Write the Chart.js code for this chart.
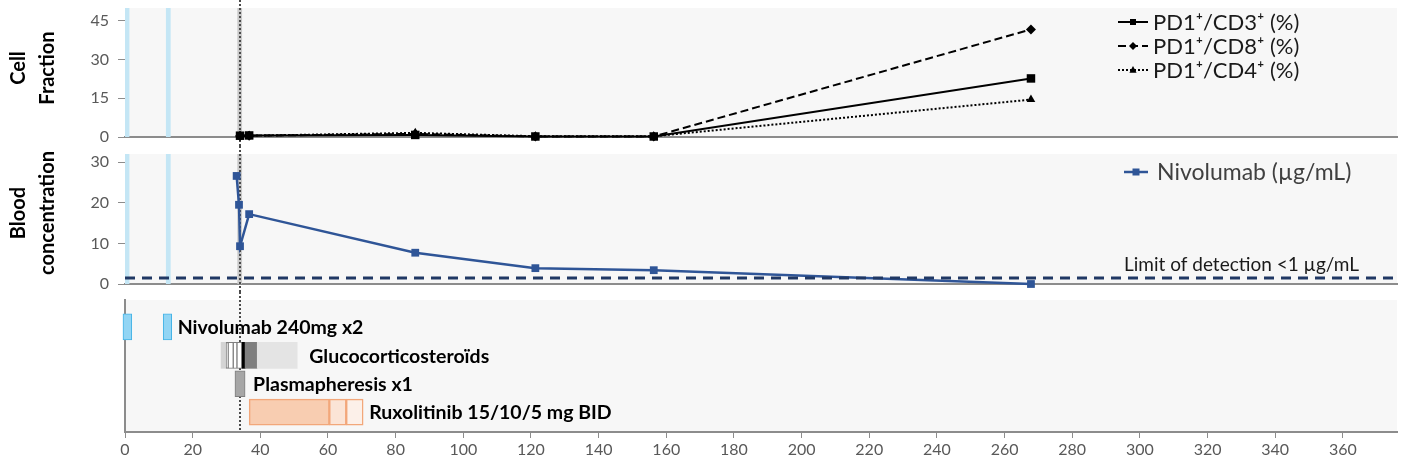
<!DOCTYPE html>
<html>
<head>
<meta charset="utf-8">
<script src="https://cdn.jsdelivr.net/npm/chart.js@4.4.1/dist/chart.umd.min.js"></script>
<style>
  html, body { margin: 0; padding: 0; background: #fff; }
  #wrap { position: relative; width: 1409px; height: 474px; overflow: hidden; }
  canvas { position: absolute; left: 0; }
</style>
</head>
<body>
<div id="wrap">
  <canvas id="cellChart" width="1409" height="146" style="top:0"></canvas>
  <canvas id="bloodChart" width="1409" height="146" style="top:146px"></canvas>
  <canvas id="treatChart" width="1409" height="182" style="top:292px"></canvas>
</div>
<script>
// days since first nivolumab dose
var xTicks = [0, 20, 40, 60, 80, 100, 120, 140, 160, 180, 200, 220, 240, 260, 280, 300, 320, 340, 360];
var cellTicks = [0, 15, 30, 45];
var bloodTicks = [0, 10, 20, 30];

var cellDays = [34, 36.7, 85.8, 121.3, 156.3, 267.8];
var cd3Values = [0.5, 0.6, 0.8, 0.2, 0.2, 22.7];
var cd8Values = [0.4, 0.5, 1.2, 0.2, 0.2, 41.7];
var cd4Values = [0.6, 0.5, 1.6, 0.3, 0.3, 14.5];

var nivoDays = [33.0, 33.7, 34.0, 36.7, 85.8, 121.3, 156.3, 267.8];
var nivoValues = [26.6, 19.5, 9.3, 17.2, 7.7, 3.9, 3.4, 0];
var detectionLimit = 1.5;

var doseBands = [[0, 1.3], [12.1, 13.5]];
var plasmaBand = [33.2, 34.6];
var plasmaDay = 34;

var treatRows = ['Nivolumab 240mg x2', 'Glucocorticosteroïds', 'Plasmapheresis x1', 'Ruxolitinib 15/10/5 mg BID'];
var nivoBars = [[-0.6, 2], [11.3, 13.8]];
var steroidBars = [[28.4, 29.9], [29.9, 30.5], [30.5, 32], [32, 33.1], [33.1, 34.6], [34.6, 35.5], [35.5, 39.1], [39.1, 50.9]];
var plasmaBars = [[32.5, 35.5]];
var ruxBars = [[36.7, 60.4], [60.4, 65.4], [65.4, 70.4]];

var FONT = 'Lato, "DejaVu Sans", sans-serif';
Chart.defaults.font.family = FONT;
Chart.defaults.animation = false;

var X_MAX = 376;

function xScale(showLabels) {
  return {
    type: 'linear',
    min: 0,
    max: X_MAX,
    afterBuildTicks: function (s) { s.ticks = xTicks.map(function (v) { return { value: v }; }); },
    afterFit: function (s) {
      s.height = showLabels ? 42 : 0;
      s.paddingLeft = 0; s.paddingRight = 0;
    },
    border: { display: true, color: '#8c8c8c', width: 2 },
    grid: { display: showLabels, drawOnChartArea: false, drawTicks: true, tickLength: 6, color: '#8c8c8c' },
    ticks: { display: showLabels, color: '#595959', font: { size: 16 }, padding: 2, maxRotation: 0 }
  };
}

function yScale(max, tickList) {
  return {
    min: 0,
    max: max,
    afterBuildTicks: function (s) { s.ticks = tickList.map(function (v) { return { value: v }; }); },
    afterFit: function (s) { s.width = 125; s.paddingTop = 0; s.paddingBottom = 0; },
    border: { display: false },
    grid: { drawOnChartArea: false, drawTicks: true, tickLength: 7, color: '#8c8c8c' },
    ticks: { color: '#595959', font: { size: 16 }, padding: 9 }
  };
}

function drawMarker(ctx, style, x, y, r) {
  ctx.beginPath();
  if (style === 'rect') {
    ctx.rect(x - r, y - r, 2 * r, 2 * r);
  } else if (style === 'rectRot') {
    ctx.moveTo(x, y - r); ctx.lineTo(x + r, y); ctx.lineTo(x, y + r); ctx.lineTo(x - r, y); ctx.closePath();
  } else {
    ctx.moveTo(x, y - r); ctx.lineTo(x + r * 0.9, y + r * 0.7); ctx.lineTo(x - r * 0.9, y + r * 0.7); ctx.closePath();
  }
  ctx.fill();
}

// rotated two-line axis title
function axisTitle(ctx, lines, cy) {
  ctx.save();
  ctx.fillStyle = '#000';
  ctx.font = 'bold 20px ' + FONT;
  ctx.textAlign = 'center';
  ctx.textBaseline = 'middle';
  lines.forEach(function (t, i) {
    ctx.save();
    ctx.translate(19 + i * 29, cy);
    ctx.rotate(-Math.PI / 2);
    ctx.fillText(t, 0, 0);
    ctx.restore();
  });
  ctx.restore();
}

// panel background, nivolumab dose bands and the plasmapheresis marker line
function panelPlugin(withBands, lineToArea) {
  return {
    id: 'panel',
    beforeDraw: function (chart) {
      var a = chart.chartArea, ctx = chart.ctx;
      ctx.save();
      ctx.fillStyle = '#f7f7f7';
      ctx.fillRect(a.left, a.top, a.right - a.left, a.bottom - a.top);
      ctx.restore();
    },
    beforeDatasetsDraw: function (chart) {
      var a = chart.chartArea, ctx = chart.ctx, xs = chart.scales.x;
      ctx.save();
      if (withBands) {
        ctx.fillStyle = '#c4e6f5';
        doseBands.forEach(function (d) {
          var x0 = xs.getPixelForValue(d[0]), x1 = xs.getPixelForValue(d[1]);
          ctx.fillRect(x0, a.top, x1 - x0, a.bottom - a.top);
        });
        ctx.fillStyle = '#c9c9c9';
        var p0 = xs.getPixelForValue(plasmaBand[0]), p1 = xs.getPixelForValue(plasmaBand[1]);
        ctx.fillRect(p0, a.top, p1 - p0, a.bottom - a.top);
      }
      var px = Math.round(xs.getPixelForValue(plasmaDay));
      ctx.strokeStyle = '#4a4a4a';
      ctx.lineWidth = 2;
      ctx.setLineDash([2, 2]);
      ctx.beginPath();
      ctx.moveTo(px, 0);
      ctx.lineTo(px, lineToArea ? a.bottom : chart.height);
      ctx.stroke();
      ctx.restore();
    }
  };
}

// ---- top panel: cell fractions ----
var cellPoints = function (vals) { return cellDays.map(function (d, i) { return { x: d, y: vals[i] }; }); };

new Chart(document.getElementById('cellChart'), {
  type: 'line',
  data: {
    datasets: [
      { label: 'PD1⁺/CD3⁺ (%)', data: cellPoints(cd3Values), borderColor: '#000', backgroundColor: '#000',
        borderWidth: 2, pointStyle: 'rect', pointRadius: 6, pointBorderWidth: 0, borderDash: [] },
      { label: 'PD1⁺/CD8⁺ (%)', data: cellPoints(cd8Values), borderColor: '#000', backgroundColor: '#000',
        borderWidth: 2, pointStyle: 'rectRot', pointRadius: 5, pointBorderWidth: 0, borderDash: [8, 4] },
      { label: 'PD1⁺/CD4⁺ (%)', data: cellPoints(cd4Values), borderColor: '#000', backgroundColor: '#000',
        borderWidth: 2, pointStyle: 'triangle', pointRadius: 5, pointBorderWidth: 0, borderDash: [2, 2] }
    ]
  },
  options: {
    responsive: false,
    layout: { padding: { top: 8, right: 12, bottom: 9, left: 0 } },
    datasets: { line: { tension: 0, clip: false } },
    plugins: { legend: { display: false }, tooltip: { enabled: false } },
    scales: { x: xScale(false), y: yScale(50, cellTicks) }
  },
  plugins: [panelPlugin(true, false), {
    id: 'cellLegend',
    afterDraw: function (chart) {
      var ctx = chart.ctx, a = chart.chartArea;
      var x0 = a.right - 279;
      axisTitle(ctx, ['Cell', 'Fraction'], 68);
      ctx.save();
      chart.data.datasets.forEach(function (ds, i) {
        var y = 22 + i * 24;
        ctx.strokeStyle = '#000';
        ctx.fillStyle = '#000';
        ctx.lineWidth = 2;
        ctx.setLineDash(ds.borderDash);
        ctx.beginPath(); ctx.moveTo(x0, y); ctx.lineTo(x0 + 30, y); ctx.stroke();
        ctx.setLineDash([]);
        drawMarker(ctx, ds.pointStyle, x0 + 15, y, ds.pointStyle === 'rect' ? 3 : 4);
        ctx.fillStyle = '#1a1a1a';
        ctx.font = '22px ' + FONT;
        ctx.textBaseline = 'middle';
        ctx.fillText(ds.label, x0 + 35, y + 1);
      });
      ctx.restore();
    }
  }]
});

// ---- middle panel: nivolumab blood concentration ----
new Chart(document.getElementById('bloodChart'), {
  type: 'line',
  data: {
    datasets: [
      { label: 'Limit of detection <1 µg/mL', data: [{ x: 0, y: detectionLimit }, { x: X_MAX, y: detectionLimit }],
        borderColor: '#203864', borderWidth: 3, borderDash: [10, 7], pointRadius: 0 },
      { label: 'Nivolumab (µg/mL)', data: nivoDays.map(function (d, i) { return { x: d, y: nivoValues[i] }; }),
        borderColor: '#2f5597', backgroundColor: '#2f5597', borderWidth: 2.5, pointStyle: 'rect',
        pointRadius: 5.5, pointBorderWidth: 0 }
    ]
  },
  options: {
    responsive: false,
    layout: { padding: { top: 8, right: 12, bottom: 8, left: 0 } },
    datasets: { line: { tension: 0, clip: false } },
    plugins: { legend: { display: false }, tooltip: { enabled: false } },
    scales: { x: xScale(false), y: yScale(32, bloodTicks) }
  },
  plugins: [panelPlugin(true, false), {
    id: 'bloodLegend',
    afterDraw: function (chart) {
      var ctx = chart.ctx, a = chart.chartArea;
      var nivo = chart.data.datasets[1], lod = chart.data.datasets[0];
      var x0 = a.right - 273, y = 26;
      axisTitle(ctx, ['Blood', 'concentration'], 67);
      ctx.save();
      ctx.strokeStyle = nivo.borderColor; ctx.fillStyle = nivo.borderColor; ctx.lineWidth = 2.5;
      ctx.beginPath(); ctx.moveTo(x0, y); ctx.lineTo(x0 + 24, y); ctx.stroke();
      drawMarker(ctx, 'rect', x0 + 12, y, 3.5);
      ctx.fillStyle = '#404040';
      ctx.font = '23px ' + FONT;
      ctx.textBaseline = 'middle';
      ctx.fillText(nivo.label, x0 + 33, y + 1);
      ctx.fillStyle = '#1a1a1a';
      ctx.font = '19px ' + FONT;
      ctx.fillText(lod.label, x0, 119);
      ctx.restore();
    }
  }]
});

// ---- bottom panel: treatments ----
var bars = [], fills = [], strokes = [], widths = [];
function addRow(list, row, colors, borderColors, borderWidths) {
  list.forEach(function (seg, i) {
    bars.push({ x: seg, y: row });
    fills.push(colors[i]);
    strokes.push(borderColors[i]);
    widths.push(borderWidths[i]);
  });
}
addRow(nivoBars, 1, ['#92d5f4', '#92d5f4'], ['#45b3e6', '#45b3e6'], [1, 1]);
addRow(steroidBars, 2,
  ['#d4d4d4', '#ffffff', '#ffffff', '#ffffff', '#ffffff', '#000000', '#7f7f7f', '#e4e4e4'],
  ['#d4d4d4', '#7f7f7f', '#7f7f7f', '#7f7f7f', '#7f7f7f', '#000000', '#7f7f7f', '#e4e4e4'],
  [0, 1, 1, 1, 1, 0, 0, 0]);
addRow(plasmaBars, 3, ['#a6a6a6'], ['#7f7f7f'], [1]);
addRow(ruxBars, 4, ['#f8cdb1', '#fbe4d6', '#fcf0e9'], ['#f2a77a', '#f2a77a', '#f2a77a'], [1.5, 1.5, 1.5]);

var rowEnds = [nivoBars, steroidBars, plasmaBars, ruxBars].map(function (list) {
  return Math.max.apply(null, list.map(function (s) { return s[1]; }));
});

new Chart(document.getElementById('treatChart'), {
  type: 'bar',
  data: {
    datasets: [{
      data: bars,
      backgroundColor: fills,
      borderColor: strokes,
      borderWidth: widths,
      borderSkipped: false,
      barThickness: 26,
      grouped: false,
      clip: false
    }]
  },
  options: {
    responsive: false,
    indexAxis: 'y',
    layout: { padding: { top: 8, right: 12, bottom: 0, left: 0 } },
    plugins: { legend: { display: false }, tooltip: { enabled: false } },
    scales: {
      x: xScale(true),
      y: {
        type: 'linear',
        min: 0.31,
        max: 4.44,
        reverse: true,
        afterFit: function (s) { s.width = 125; s.paddingTop = 0; s.paddingBottom = 0; },
        border: { display: true, color: '#8c8c8c', width: 2 },
        grid: { display: false },
        ticks: { display: false }
      }
    }
  },
  plugins: [panelPlugin(false, true), {
    id: 'rowLabels',
    afterDatasetsDraw: function (chart) {
      var ctx = chart.ctx, xs = chart.scales.x, ys = chart.scales.y;
      var gaps = [6, 12, 8, 6];
      ctx.save();
      ctx.fillStyle = '#000';
      ctx.font = 'bold 19.5px ' + FONT;
      ctx.textBaseline = 'middle';
      treatRows.forEach(function (label, i) {
        ctx.fillText(label, xs.getPixelForValue(rowEnds[i]) + gaps[i], ys.getPixelForValue(i + 1) + 1);
      });
      ctx.restore();
    }
  }]
});
</script>
</body>
</html>
